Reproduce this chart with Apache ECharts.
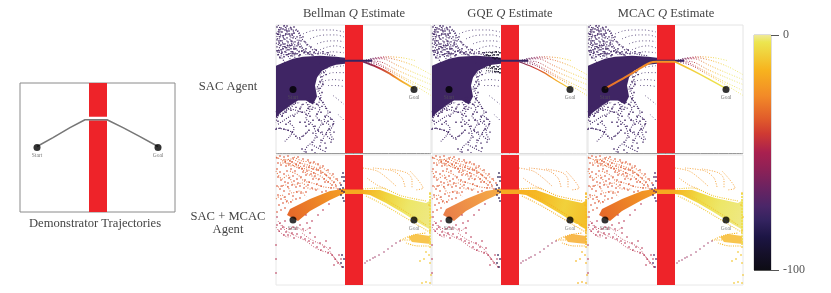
<!DOCTYPE html>
<html><head><meta charset="utf-8">
<style>html,body{margin:0;padding:0;background:#fff}#c{width:831px;height:293px;filter:blur(0.35px)}</style>
<script src="https://cdn.jsdelivr.net/npm/echarts@6/dist/echarts.min.js"></script></head>
<body><div id="c"></div>
<script>
// ---------- DATA (panel units, y grows downward) ----------
const columnTitles = ['Bellman', 'GQE', 'MCAC'];
const rowLabels = ['SAC Agent', 'SAC + MCAC', 'Agent'];
const colorbarTicks = [-100, 0];
const startPoint = [17, 65];
const goalPoint = [138, 65];
const obstacle = [[69,0],[87,0],[87,130],[69,130]];
const demoPath = [[17,64],[33,55],[50,45],[65,37],[87,37],[103,45],[120,54],[138,64]];
const demoGap = [[69,34],[87,34],[87,37.6],[69,37.6]];

const topBlob = [[0,41],[7,38],[17,34],[27,32],[44,31],[60,32],[69,33],[69,39],[60,40],[54,42],[46,46],[41,53],[39,61],[41,72],[37,80],[30,76],[22,76],[14,81],[4,89],[0,94]];
const topDots = [[1,2],[3,5],[2,9],[5,3],[6,7],[4,12],[1,15],[7,11],[9,5],[10,9],[8,14],[3,18],[1,22],[5,20],[6,16],[9,19],[11,13],[12,17],[13,6],[14,11],[15,16],[10,23],[7,24],[3,26],[2,30],[6,28],[9,27],[12,25],[14,21],[16,20],[17,13],[18,8],[19,17],[20,24],[21,12],[22,19],[23,27],[24,22],[25,16],[16,27],[18,29],[13,29],[11,30],[20,29],[26,26],[28,28],[30,24],[32,29],[34,27],[36,30],[31,20],[27,12],[29,17],[15,3],[18,2],[11,1],[8,1],[4,33],[8,32],[15,31],[23,31],[38,28],[42,29],[47,27],[52,28],[40,25],[35,22],[3,7],[7,4],[11,6],[13,9],[16,9],[4,16],[7,19],[9,22],[12,21],[15,24],[18,24],[21,21],[24,30],[1,26],[5,25],
[44,38],[49,39],[55,38],[58,36],[63,35],[66,37],[46,52],[48,48],[50,50],[44,57],[47,60],[43,64],[46,68],[44,74],[47,78],[41,80],[36,85],[32,84],[27,80],[24,84],[20,83],[15,86],[10,88],[6,92],[2,97],[26,88],[30,90],[34,92],[37,96],[41,90],[45,88],[49,92],[52,97],[55,95],[57,100],[47,100],[43,96],[39,102],[42,106],[46,108],[50,110],[53,105],[37,109],[41,113],[45,116],[49,119],[44,122],[36,118],[33,100],[29,98],[54,88],[50,84],[46,82],[58,108],
[0,105],[4,104],[8,105],[12,106],[16,108],[20,112],[24,115],[27,112],[30,109],[33,106],[30,102],[24,98],[18,92],[14,97],[10,100],[36,126],[39,129],[30,128],[26,125],[50,124],[55,118]];
const topTrails = [
 [[2,0],[5,6],[3,13],[8,20],[5,30],[9,38]],
 [[8,0],[11,7],[7,12],[12,18],[10,27],[15,35]],
 [[14,2],[18,8],[14,14],[19,21],[16,30],[22,34]],
 [[0,8],[6,11],[13,9],[20,14],[26,22],[30,30]],
 [[0,18],[7,22],[14,20],[22,26],[30,27],[38,31]],
 [[1,26],[9,30],[18,28],[26,31]],
 [[20,4],[24,12],[22,19],[28,25],[34,30]],
 [[10,3],[16,5],[22,6],[26,14],[33,21],[40,29]],
 [[3,4],[1,12],[4,20],[2,28],[5,34]],
 [[17,16],[13,24],[20,31]],
 [[38,24],[44,28],[52,30],[60,31]],
 [[38,78],[44,84],[40,92],[46,98],[42,106],[48,112],[44,120]],
 [[30,78],[34,86],[30,94],[36,100],[40,110],[36,120]],
 [[42,72],[48,80],[52,88],[48,96],[54,102],[50,110],[56,116]],
 [[26,80],[22,88],[14,92],[8,96],[2,100]],
 [[34,82],[28,88],[20,86],[12,84],[6,92]],
 [[0,104],[8,105],[16,108],[22,114],[28,111],[33,106]],
 [[12,98],[18,104],[14,112],[8,118]],
 [[46,56],[41,64],[45,72],[42,80]],
 [[50,46],[44,50],[47,58],[43,66]],
 [[28,128],[34,120],[42,124],[50,128]],
 [[52,92],[58,98],[54,108],[58,116]],
 [[20,78],[14,84],[8,88],[2,92],[0,98]],
 [[30,74],[36,72],[33,80],[40,84]],
 [[0,88],[4,82],[10,84],[16,80],[24,78]]
];
const topArcs = [
 [[27,9],[35,6],[44,5],[56,5],[68,7]],
 [[34,14],[42,11],[51,10],[60,10],[68,12]],
 [[41,19],[47,17],[54,16],[62,16],[68,17]],
 [[44,25],[52,22],[60,21],[68,23]],
 [[47,29],[56,27],[68,28]],
 [[44,46],[54,43],[68,41]],
 [[44,53],[50,50],[57,48],[68,48]],
 [[49,56],[58,55],[68,56]],
 [[52,61],[60,61],[68,62]],
 [[57,71],[62,75],[68,80]],
 [[62,90],[68,96]]
];
const topCore = [[60,37],[69,36],[87,36],[96,36]];
const fanMain = [[87,37],[100,42],[112,48],[126,57],[138,64]];
const fanLines = [
 [[87,36],[100,38],[114,45],[130,54],[155,66]],
 [[88,36],[104,37],[120,45],[136,52],[155,60]],
 [[90,35],[106,34],[122,41],[138,48],[155,55]],
 [[92,35],[108,33],[124,36],[140,42],[155,50]],
 [[94,34],[110,32],[126,33],[140,36]],
 [[90,37],[104,41],[118,49],[134,58],[155,71]]
];
const sacPathLeft = [[17,64],[33,55],[50,45],[62,38],[69,37],[87,37]];
const sacPathRight = [[87,37],[103,45],[120,54],[138,64]];

const bottomWedgeLeft = [[11,60],[14,54],[34,44],[54,36],[69,33.5],[69,38],[54,45],[34,56],[22,66]];
const bottomBridge = [[69,34.5],[87,34.5],[87,39],[69,39]];
const bottomWedgeRight = [[87,35],[104,35],[127,43],[150,48],[155,45],[155,75],[141,67],[127,58],[110,48],[94,40],[87,39]];
const bottomLowerBlob = [[132,82],[140,79],[154,81],[155,89],[145,88],[136,87]];
const gqeHole = [[134,68],[146,69],[153,79],[144,76]];
const bottomUpperDots = [[1,3],[4,1],[8,2],[12,1],[17,3],[22,2],[27,4],[32,5],[38,7],[42,9],[47,11],[52,15],[57,19],[61,24],[64,28],[2,8],[5,10],[9,7],[13,9],[16,7],[20,9],[24,8],[28,11],[33,12],[37,14],[41,15],[45,18],[50,20],[54,23],[58,27],[1,14],[4,17],[8,19],[11,16],[15,14],[19,16],[23,13],[27,17],[31,16],[35,19],[39,21],[43,24],[48,24],[52,27],[56,30],[60,31],[2,22],[5,25],[9,27],[13,23],[17,21],[21,24],[25,22],[29,25],[33,27],[37,24],[41,29],[45,31],[1,31],[4,34],[8,36],[12,32],[16,30],[20,32],[24,31],[28,33],[32,30],[36,33],[40,35],[2,40],[5,44],[9,42],[13,39],[17,41],[21,37],[25,38],[30,37],[3,50],[7,48],[11,46],[15,47],[20,44],[1,57],[5,55],[9,53],[24,43],[46,37],[50,36],[55,33],[62,34],[10,11],[14,6],[26,14],[34,8],[30,20],[18,26],[12,28],[6,31],[22,28],[38,18],[44,13],[49,27]];
const bottomUpperTrails = [
 [[0,2],[8,5],[16,4],[24,8],[32,10],[42,14],[50,20],[60,30]],
 [[4,8],[12,8],[20,12],[30,14],[38,18],[46,22],[56,30]],
 [[8,4],[14,11],[22,10],[30,18],[38,22],[44,26]],
 [[18,2],[26,6],[34,7],[44,11],[52,17],[62,26]],
 [[6,6],[12,5],[18,8],[24,12]],
 [[30,12],[38,14],[46,17],[52,22]],
 [[0,16],[6,24],[12,20],[18,30],[26,28],[34,34],[44,34]],
 [[2,32],[10,30],[16,38],[24,36],[30,42]],
 [[0,44],[6,40],[12,48],[18,44]],
 [[14,16],[22,20],[28,26],[36,28],[48,32],[62,33]]
];
const bottomLowerDots = [[1,62],[4,68],[7,72],[3,76],[9,66],[10,77],[14,74],[17,72],[20,74],[24,70],[27,74],[31,68],[34,73],[12,80],[16,78],[21,79],[25,82],[29,84],[33,86],[37,88],[41,92],[45,95],[48,92],[52,98],[56,100],[59,104],[62,108],[65,104],[66,112],[63,100],[58,110],[54,93],[50,86],[44,88],[39,82],[34,78],[30,60],[36,66],[42,60],[47,55],[53,49],[0,90],[0,104],[0,118],[5,74],[8,80],[18,83],[1,70]];
const bottomLowerTrails = [
 [[2,66],[8,74],[14,78],[22,82],[30,86],[38,92],[46,96],[54,98],[62,108]],
 [[6,70],[12,74],[20,72],[28,76],[34,72]],
 [[0,72],[5,78],[12,82],[18,78]],
 [[26,78],[34,84],[42,88],[50,92],[58,102],[66,112]]
];
const bottomRightDots = [[89,108],[94,105],[99,102],[103,100],[108,97],[112,94],[116,91],[120,88],[124,86],[91,106],[97,103]];
const bottomRedEdge = [[67,18],[66,22],[68,26],[65,30],[67,33],[68,37],[65,40],[67,43],[68,46],[66,36],[64,34],[68,22],[66,100],[68,104],[65,108],[67,112]];
const bottomYellowEdge = [[154,38],[153,50],[155,62],[154,76],[154,92],[153,100],[154,108],[155,120],[154,128],[148,104],[144,106],[150,97],[146,128],[150,127]];
const bottomCurls = [
 [[87,13],[101,16],[111,23],[121,32]],
 [[97,13],[117,16],[126,23],[129,32]],
 [[114,14],[131,18],[136,25],[136,33]],
 [[134,16],[142,25],[147,33],[139,35]],
 [[91,23],[101,30],[111,34]]
];
const wedgeFuzz = [
 [[87,34],[104,33],[126,41],[150,46]],
 [[90,41],[108,50],[125,60],[140,69],[155,78]],
 [[96,38],[112,46],[130,57],[150,70]]
];
const blobFuzz = [
 [[127,84],[137,80],[150,78]],
 [[130,88],[142,91],[154,91]],
 [[124,85],[134,85]]
];
const colorStops = [[0,'#efe99a'],[.03,'#ece650'],[.15,'#f7b31e'],[.26,'#f28a28'],[.36,'#e05a2b'],[.42,'#cf3a32'],[.5,'#a9204f'],[.57,'#8e2156'],[.65,'#6b2361'],[.73,'#4a2668'],[.79,'#33235f'],[.86,'#1c1544'],[.93,'#15102a'],[1,'#0d0c14']];

// ---------- HELPERS ----------
function hex(c){return [1,3,5].map(i=>parseInt(c.substr(i,2),16));}
function cmap(v){
  const t=Math.min(1,Math.max(0,-v/100));
  for(let i=1;i<colorStops.length;i++){
    if(t<=colorStops[i][0]){
      const a=colorStops[i-1],b=colorStops[i],f=(t-a[0])/(b[0]-a[0]);
      const A=hex(a[1]),B=hex(b[1]);
      return 'rgb('+A.map((x,j)=>Math.round(x+(B[j]-x)*f)).join(',')+')';
    }
  }
  return colorStops[colorStops.length-1][1];
}
function hGrad(vals){return {type:'linear',x:0,y:0,x2:1,y2:0,colorStops:vals.map((v,i)=>({offset:i/(vals.length-1),color:cmap(v)}))};}
const grids=[],xAxes=[],yAxes=[],series=[];
function addPanel(left,top,h,border){
  const i=grids.length;
  grids.push({left,top,width:155,height:h,show:true,borderColor:border,borderWidth:1,backgroundColor:'#fff'});
  xAxes.push({type:'value',gridIndex:i,min:0,max:155,show:false});
  yAxes.push({type:'value',gridIndex:i,min:0,max:130,inverse:true,show:false});
  return i;
}
function poly(g,pts,fill,z,opacity){
  series.push({type:'custom',xAxisIndex:g,yAxisIndex:g,z,silent:true,data:[pts[0]],clip:true,
    renderItem:(p,api)=>({type:'polygon',shape:{points:pts.map(q=>api.coord(q))},style:{fill:typeof fill==='object'?new echarts.graphic.LinearGradient(fill.x,fill.y,fill.x2,fill.y2,fill.colorStops):fill,opacity:opacity==null?1:opacity}})});
}
function dots(g,pts,v,size,z,opacity){
  series.push({type:'scatter',xAxisIndex:g,yAxisIndex:g,z,silent:true,symbol:'rect',symbolSize:size,data:pts,itemStyle:{color:cmap(v),opacity:opacity==null?1:opacity},animation:false});
}
function line(g,pts,color,width,dash,z,opacity){
  series.push({type:'line',xAxisIndex:g,yAxisIndex:g,z,silent:true,symbol:'none',data:pts,lineStyle:{color,width,type:dash,opacity:opacity==null?1:opacity,cap:'butt'},smooth:0.3,animation:false});
}
function markers(g,labelColor){
  [[startPoint,'Start'],[goalPoint,'Goal']].forEach(([p,t])=>{
    series.push({type:'scatter',xAxisIndex:g,yAxisIndex:g,z:9,silent:true,symbolSize:7,data:[p],itemStyle:{color:'#000'},animation:false,
      label:{show:true,formatter:t,position:'bottom',distance:2,fontSize:5.5,color:labelColor,fontFamily:'Liberation Serif'}});
  });
}
const RED='#ee2329';

// Left panel: demonstrator trajectories
const g0=addPanel(20,83,129,'#8a8a8a');
poly(g0,obstacle,RED,4);
poly(g0,demoGap,'#fff',5);
series.push({type:'line',xAxisIndex:g0,yAxisIndex:g0,z:6,silent:true,symbol:'none',data:demoPath,lineStyle:{color:'#777',width:1.6},animation:false});
markers(g0,'#555');

// Top row
const topLefts=[276,432,588];
topLefts.forEach((l,k)=>{
  const g=addPanel(l,25,129,'#e4e4e4');
  poly(g,topBlob,cmap(-76),2);
  dots(g,topDots,-76,1.4,3);
  topTrails.forEach(a=>line(g,a,cmap(-76),1.1,[1,1.4],3));
  topArcs.forEach(a=>line(g,a,cmap(-78),0.9,[1,2.4],3,0.85));
  if(k===1){
    dots(g,[[60,28],[62,30],[64,27],[66,30],[68,28],[61,33],[63,34],[65,33],[67,34],[58,41],[60,43],[62,42],[64,44],[66,42],[68,44],[63,47],[66,47],[68,48],[57,31],[55,30]],-95,1.5,3);
    [[[50,28],[68,27]],[[52,31],[68,30]],[[52,43],[68,45]],[[54,46],[68,47]]].forEach(a=>line(g,a,cmap(-95),1,[1,1],3));
  }
  poly(g,obstacle,RED,4);
  line(g,topCore,cmap(-78),2,'solid',6);
  const fanVals = k===2 ? [-72,-48,-18,-3,-1] : k===1 ? [-72,-55,-32,-10,-3] : [-72,-50,-22,-5,-1];
  fanLines.forEach(a=>line(g,a,hGrad(fanVals),1,[1,1.6],5,0.9));
  if(k<2) line(g,fanMain,hGrad(k===1?[-70,-42,-20,-4]:[-70,-45,-22,-6]),k===1?1.2:1.8,'solid',6);
  if(k===2){
    line(g,sacPathLeft,hGrad([-32,-26,-22]),2,'solid',7);
    line(g,sacPathRight,hGrad([-16,-6,-3]),1.6,'solid',7);
  }
  markers(g,'#555');
  line(g,[[0,129.5],[155,129.5]],k===1?'#ddd':'#999',1,'solid',8);
});

// Bottom row
topLefts.forEach((l,k)=>{
  const g=addPanel(l,155,130,'#e8e8e8');
  dots(g,bottomUpperDots,-38,1.5,3,0.85);
  bottomUpperTrails.forEach(a=>line(g,a,cmap(-34),1.1,[1,1.5],3,0.85));
  dots(g,bottomLowerDots,-48,1.5,3,0.8);
  bottomLowerTrails.forEach(a=>line(g,a,cmap(-47),1,[1,1.6],3,0.8));
  dots(g,bottomRightDots,-55,1.3,3,0.75);
  dots(g,bottomRedEdge,k===2?-72:-82,1.6,3);
  dots(g,bottomYellowEdge,k===1?-14:-10,1.5,3);
  bottomCurls.forEach(a=>line(g,a,cmap(k===1?-26:-22),1,[1,1.5],3,0.85));
  line(g,[[154,38],[154,90]],cmap(k===1?-13:-5),1.6,[2,1],3);
  poly(g,bottomLowerBlob,cmap(k===1?-18:-14),3,0.8);
  blobFuzz.forEach(a=>line(g,a,cmap(k===1?-18:-14),1.1,[1,1.2],3));
  wedgeFuzz.forEach(a=>line(g,a,cmap(k===1?-16:-10),1.1,[1,1.2],3));
  poly(g,bottomWedgeLeft,{type:'linear',x:0,y:1,x2:1,y2:0,colorStops:[{offset:0,color:cmap(-34)},{offset:1,color:cmap(-20)}]},3,k===1?0.85:1);
  poly(g,bottomWedgeRight,{type:'linear',x:0,y:0,x2:1,y2:0.6,colorStops:(k===1?[-16,-13,-8,-12]:k===2?[-15,-6,-2,-1]:[-16,-7,-2,-1]).map((v,i)=>({offset:i/3,color:cmap(v)}))},3);
  if(k===1) poly(g,gqeHole,'#fff',3);
  poly(g,obstacle,RED,4);
  poly(g,bottomBridge,cmap(-18),5);
  markers(g,'#666');
});

// Colourbar
const cbIdx=grids.length;
grids.push({left:754,top:35,width:17,height:235,show:true,borderColor:'#bbb',borderWidth:1});
xAxes.push({type:'category',gridIndex:cbIdx,data:['Q'],show:false});
yAxes.push({type:'value',gridIndex:cbIdx,position:'right',min:-100,max:0,interval:100,
  axisLine:{show:false},splitLine:{show:true,lineStyle:{color:'#555'}},
  axisTick:{show:true,length:8,lineStyle:{color:'#555'}},
  axisLabel:{color:'#555',fontSize:12,fontFamily:'Liberation Serif',margin:12,formatter:v=>colorbarTicks.includes(v)?String(v):''}});
series.push({type:'bar',xAxisIndex:cbIdx,yAxisIndex:cbIdx,barWidth:'100%',silent:true,data:[-100],animation:false,
  itemStyle:{color:{type:'linear',x:0,y:0,x2:0,y2:1,colorStops:colorStops.map(s=>({offset:s[0],color:s[1]}))}}});

// Text
const F='Liberation Serif', C='#444', FS=12.6;
function txt(x,y,rich){return {type:'text',x,y,silent:true,style:{text:rich,x:0,y:0,align:'center',verticalAlign:'middle',fontFamily:F,fontSize:FS,fill:C,rich:{q:{fontStyle:'italic',fontFamily:F,fontSize:FS,fill:C}}}};}
const graphics=[
  txt(354,14,columnTitles[0]+' {q|Q} Estimate'),
  txt(510,14,columnTitles[1]+' {q|Q} Estimate'),
  txt(666,14,columnTitles[2]+' {q|Q} Estimate'),
  txt(228,87,rowLabels[0]),
  txt(228,217,rowLabels[1]),
  txt(228,230,rowLabels[2]),
  txt(95,224,'Demonstrator Trajectories')
];
const chart=echarts.init(document.getElementById('c'),null,{width:831,height:293});
chart.setOption({animation:false,grid:grids,xAxis:xAxes,yAxis:yAxes,series,graphic:{elements:graphics}});
</script></body></html>
